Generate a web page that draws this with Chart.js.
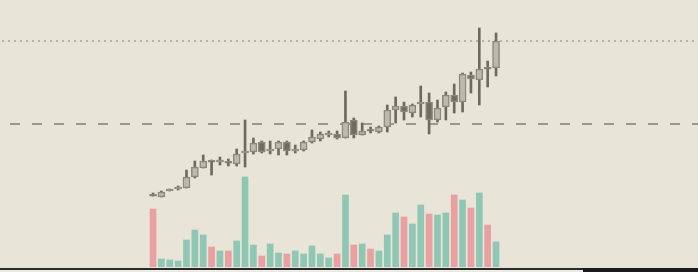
<!DOCTYPE html>
<html lang="en">
<head>
    <meta charset="UTF-8">
    <title>Candles</title>
    <style>
        html, body { margin: 0; padding: 0; background: #e8e4d8; }
        canvas { display: block; }
    </style>
    <script src="https://cdn.jsdelivr.net/npm/chart.js"></script>
</head>
<body>
    <canvas id="candleChart" width="698" height="272"></canvas>

    <script>
        // Session data
        const days = [0,1,2,3,4,5,6,7,8,9,10,11,12,13,14,15,16,17,18,19,20,21,22,23,24,25,26,27,28,29,30,31,32,33,34,35,36,37,38,39,40,41];
        const openP  = [7.2, 7.0, 7.7, 7.9, 7.9, 9.0, 9.9, 10.6, 10.6, 10.5, 10.3, 11.4, 11.5, 12.5, 11.6, 11.8, 12.5, 11.7, 11.7, 12.5, 12.8, 13.3, 13.3, 12.9, 14.7, 13.2, 13.7, 13.5, 14.0, 15.7, 16.1, 15.4, 16.4, 16.5, 14.7, 16.0, 17.2, 16.5, 19.2, 18.7, 19.9, 19.9];
        const highP  = [7.4, 7.6, 7.8, 8.1, 9.7, 10.6, 11.2, 10.7, 11.0, 10.8, 11.8, 14.7, 12.9, 12.6, 12.6, 12.6, 12.6, 12.2, 12.6, 13.7, 13.5, 13.6, 13.6, 17.6, 14.9, 14.4, 14.0, 14.1, 16.2, 17.0, 16.5, 16.3, 18.1, 17.4, 16.7, 17.5, 18.3, 19.4, 19.5, 23.9, 20.6, 23.4];
        const lowP   = [7.1, 7.0, 7.6, 7.7, 7.9, 8.9, 9.9, 9.2, 10.2, 10.1, 10.1, 10.0, 11.3, 11.4, 11.3, 11.2, 11.2, 11.4, 11.6, 12.4, 12.6, 13.0, 12.8, 12.9, 12.9, 13.2, 13.4, 13.4, 13.5, 14.4, 14.7, 15.0, 15.0, 13.3, 14.5, 14.7, 15.4, 15.5, 17.4, 16.2, 18.0, 19.1];
        const closeP = [7.15, 7.5, 7.7, 7.9, 9.0, 10.0, 10.6, 10.55, 10.6, 10.45, 11.3, 11.6, 12.4, 11.5, 11.8, 12.5, 11.6, 11.7, 12.5, 13.0, 13.3, 13.3, 12.9, 14.5, 13.2, 13.6, 13.65, 14.0, 15.7, 16.1, 15.5, 16.2, 16.4, 14.7, 15.9, 17.2, 16.5, 19.3, 18.8, 19.8, 19.85, 22.6];
        const volume = [5800, 800, 700, 600, 2700, 3700, 3200, 2000, 1600, 1600, 2600, 9000, 2200, 1100, 2300, 1400, 1300, 1600, 1300, 2100, 1300, 900, 1300, 7200, 2200, 2300, 1800, 1600, 3200, 5400, 5000, 4300, 6200, 5300, 5200, 5400, 7200, 6700, 5900, 7400, 4200, 2500];
        const refLevel = 14.3;                    // dashed reference line
        const lastClose = closeP[closeP.length - 1]; // dotted line

        const isDown = days.map(i => closeP[i] < openP[i]);

        // body: keep a hairline for doji candles so they stay visible
        const bodies = days.map(i => {
            let lo = Math.min(openP[i], closeP[i]);
            let hi = Math.max(openP[i], closeP[i]);
            if (hi - lo < 0.2) {
                const mid = (hi + lo) / 2;
                lo = mid - 0.1;
                hi = mid + 0.1;
            }
            return { x: i, y: [lo, hi] };
        });
        const wicks = days.map(i => ({ x: i, y: [lowP[i], highP[i]] }));
        const vols = days.map(i => ({ x: i, y: volume[i] }));

        // reference lines + bottom strip
        const linesPlugin = {
            id: 'lines',
            beforeDatasetsDraw(chart) {
                const ctx = chart.ctx;
                const y = chart.scales.y;
                ctx.save();
                ctx.lineWidth = 2;

                ctx.strokeStyle = '#b6b3a7';
                ctx.setLineDash([2, 4]);
                ctx.lineDashOffset = -2;
                let py = Math.round(y.getPixelForValue(lastClose));
                ctx.beginPath();
                ctx.moveTo(0, py); ctx.lineTo(chart.width, py);
                ctx.stroke();

                ctx.strokeStyle = '#9b988e';
                ctx.setLineDash([10, 12]);
                ctx.lineDashOffset = 12;
                py = Math.round(y.getPixelForValue(refLevel));
                ctx.beginPath();
                ctx.moveTo(0, py); ctx.lineTo(chart.width, py);
                ctx.stroke();
                ctx.restore();
            },
            afterDraw(chart) {
                const ctx = chart.ctx;
                ctx.save();
                ctx.fillStyle = '#ecebe0';
                ctx.fillRect(0, 270, chart.width, 2);
                ctx.fillStyle = '#2b2a2e';
                ctx.fillRect(0, 268, chart.width, 2);
                ctx.fillStyle = '#1b1a21';
                ctx.fillRect(583, 268, chart.width - 583, 4);
                ctx.restore();
            }
        };

        new Chart(document.getElementById('candleChart'), {
            type: 'bar',
            data: {
                datasets: [
                    {
                        label: 'Body',
                        data: bodies,
                        yAxisID: 'y',
                        grouped: false,
                        order: 1,
                        barThickness: 7,
                        borderWidth: 1.5,
                        borderSkipped: false,
                        borderColor: '#8b887c',
                        backgroundColor: days.map(i => isDown[i] ? '#6f6c61' : '#bdb9ad')
                    },
                    {
                        label: 'Wick',
                        data: wicks,
                        yAxisID: 'y',
                        grouped: false,
                        order: 2,
                        barThickness: 2,
                        borderWidth: 0,
                        backgroundColor: '#6d6a5e'
                    },
                    {
                        label: 'Volume',
                        data: vols,
                        yAxisID: 'yVol',
                        grouped: false,
                        order: 3,
                        barThickness: 6,
                        borderWidth: 0,
                        backgroundColor: days.map(i => isDown[i] ? '#e8a0a1' : '#8fc6b4')
                    }
                ]
            },
            options: {
                responsive: false,
                animation: false,
                devicePixelRatio: 1,
                layout: { padding: { left: 0, right: 0, top: 0, bottom: 5 } },
                plugins: {
                    legend: { display: false },
                    tooltip: { enabled: false }
                },
                scales: {
                    x: { type: 'linear', min: -18.29, max: 65.14, offset: false, display: false },
                    y: { min: 0, max: 26.7, display: false },
                    yVol: { min: 0, max: 26700, display: false }
                }
            },
            plugins: [linesPlugin]
        });
    </script>
</body>
</html>
